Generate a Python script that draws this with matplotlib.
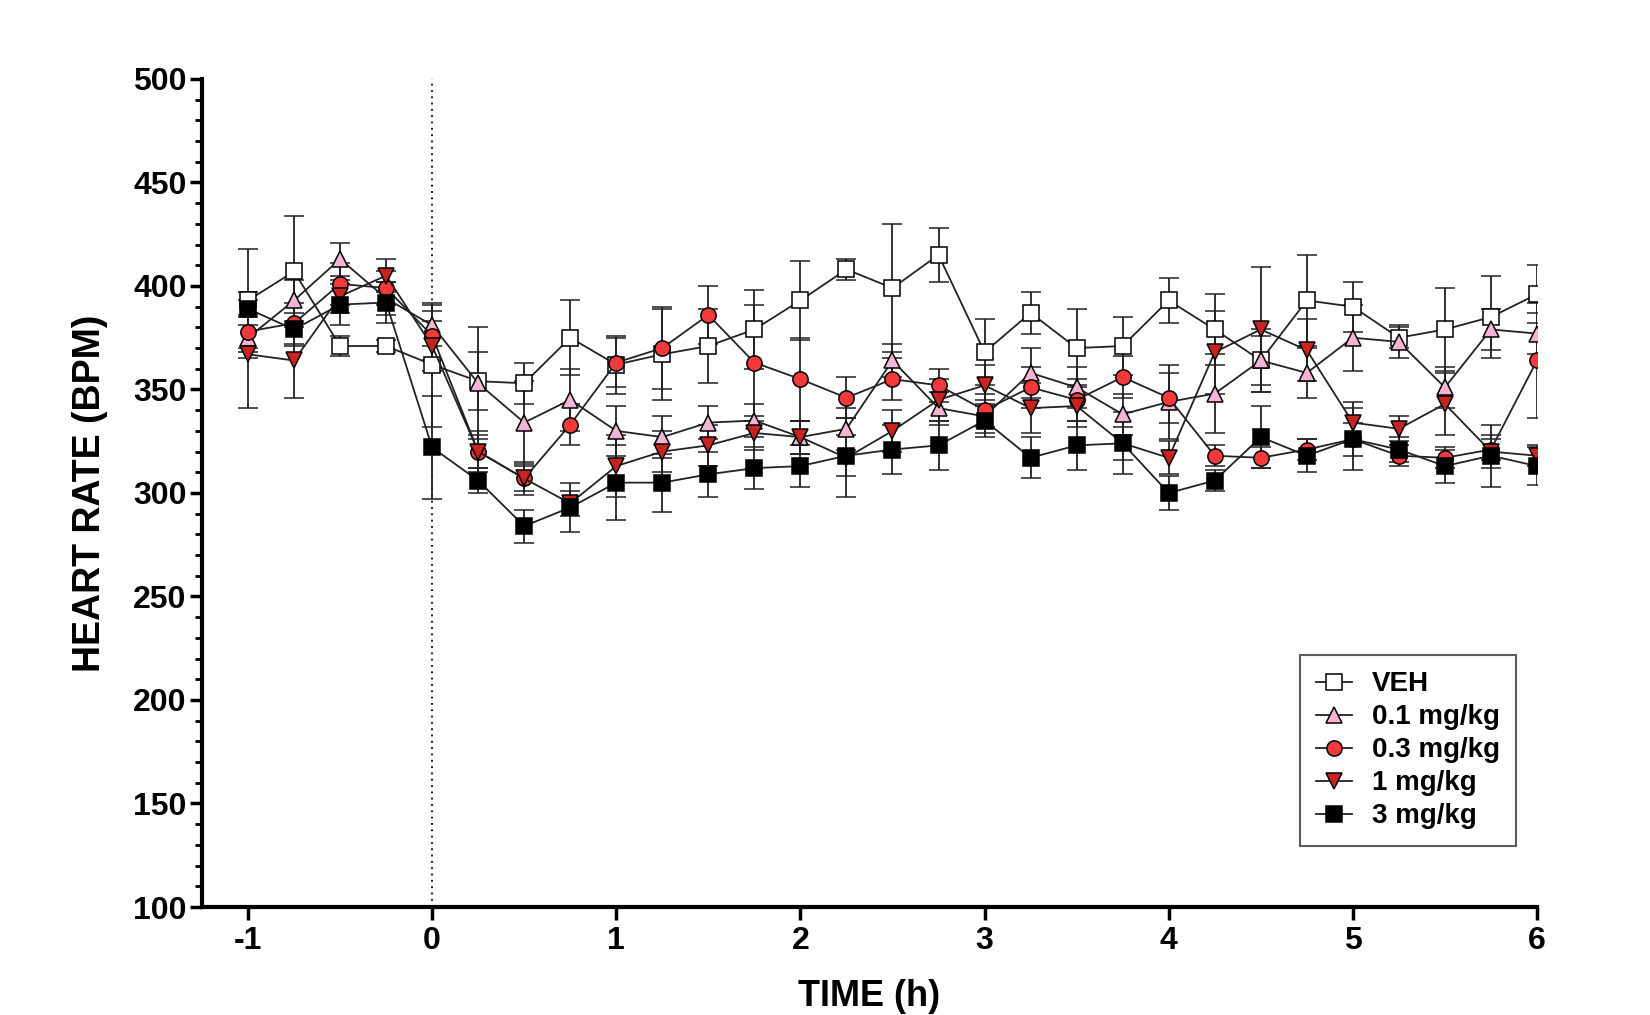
import numpy as np
import matplotlib
matplotlib.use("Agg")
import matplotlib.pyplot as plt
from matplotlib.lines import Line2D
from matplotlib.ticker import MultipleLocator

plt.rcParams['font.family'] = ['Liberation Sans', 'DejaVu Sans']
plt.rcParams['font.weight'] = 'bold'
plt.rcParams['axes.unicode_minus'] = False

# time points (h)
time = np.arange(-1, 6.01, 0.25)

# mean heart rate per group
veh = [393, 407, 371, 371, 362, 354, 353, 375, 362, 367, 371, 379, 393, 408, 399, 415,
       368, 387, 370, 371, 393, 379, 364, 393, 390, 375, 379, 385, 396]
d01 = [375, 393, 413, 394, 381, 353, 334, 345, 330, 327, 334, 335, 327, 331, 364, 341,
       337, 358, 351, 338, 344, 348, 364, 358, 375, 373, 351, 379, 377]
d03 = [378, 382, 401, 399, 376, 320, 307, 333, 363, 370, 386, 363, 355, 346, 355, 352,
       340, 351, 345, 356, 346, 318, 317, 321, 326, 318, 317, 321, 364]
d1 = [367, 364, 395, 405, 371, 320, 307, 295, 313, 320, 323, 329, 327, 317, 330, 345,
      352, 341, 342, 324, 317, 368, 379, 369, 334, 331, 343, 320, 318]
d3 = [389, 379, 391, 392, 322, 306, 284, 293, 305, 305, 309, 312, 313, 318, 321, 323,
      335, 317, 323, 324, 300, 306, 327, 318, 326, 321, 313, 318, 313]

# SEM per group
veh_err = [25, 27, 5, 3, 30, 14, 10, 18, 14, 22, 18, 19, 19, 5, 31, 13,
           16, 10, 19, 14, 11, 17, 12, 22, 12, 5, 20, 20, 14]
d01_err = [10, 10, 8, 8, 10, 27, 20, 15, 12, 10, 8, 8, 8, 10, 8, 8,
           8, 12, 10, 10, 18, 19, 15, 12, 16, 8, 10, 10, 10]
d03_err = [8, 10, 10, 8, 12, 10, 6, 10, 12, 20, 14, 28, 20, 10, 10, 8,
           8, 10, 10, 10, 12, 5, 5, 5, 8, 5, 5, 5, 28]
d1_err = [26, 18, 8, 8, 12, 8, 8, 6, 15, 10, 10, 8, 8, 19, 10, 10,
          10, 12, 10, 8, 8, 20, 30, 15, 10, 6, 15, 8, 5]
d3_err = [8, 8, 10, 10, 25, 6, 8, 12, 18, 14, 11, 10, 10, 10, 12, 12,
          8, 10, 12, 15, 8, 5, 15, 8, 15, 6, 8, 15, 9]

labels = ['VEH', '0.1 mg/kg', '0.3 mg/kg', '1 mg/kg', '3 mg/kg']
markers = ['s', '^', 'o', 'v', 's']
faces = ['white', '#f4b4d4', '#f23a3c', '#c8231f', 'black']
series = [veh, d01, d03, d1, d3]
errs = [veh_err, d01_err, d03_err, d1_err, d3_err]

fig = plt.figure(figsize=(16.5, 10.15), dpi=100)
ax = fig.add_axes([0.1224, 0.1064, 0.8091, 0.8158])

ax.axvline(0, color='black', linestyle=(0, (1, 2.5)), linewidth=1.3, zorder=1)

handles = []
for y, e, lab, m, fc in zip(series, errs, labels, markers, faces):
    ax.errorbar(time, y, yerr=e, color='#222222', linewidth=1.3, elinewidth=1.3,
                capsize=7, capthick=1.3, marker=m, markersize=11,
                markerfacecolor=fc, markeredgecolor='black', markeredgewidth=1.1,
                zorder=3)
    handles.append(Line2D([], [], color='#222222', linewidth=1.3, marker=m,
                          markersize=11, markerfacecolor=fc,
                          markeredgecolor='black', markeredgewidth=1.1, label=lab))

ax.set_xlim(-1.25, 6)
ax.set_ylim(100, 500)
ax.xaxis.set_major_locator(MultipleLocator(1))
ax.yaxis.set_major_locator(MultipleLocator(50))
ax.yaxis.set_minor_locator(MultipleLocator(10))

for s in ['top', 'right']:
    ax.spines[s].set_visible(False)
for s in ['left', 'bottom']:
    ax.spines[s].set_linewidth(3)

ax.tick_params(axis='both', which='major', direction='out', length=9, width=2.5,
               labelsize=23, pad=2)
ax.tick_params(axis='x', which='major', pad=5)
ax.tick_params(axis='y', which='minor', direction='out', length=5, width=2)
ax.tick_params(axis='x', which='minor', length=0)

for t in ax.get_xticklabels() + ax.get_yticklabels():
    t.set_fontweight('bold')

ax.set_xlabel('TIME (h)', fontsize=26, fontweight='bold', labelpad=16)
ax.set_ylabel('HEART RATE (BPM)', fontsize=27, fontweight='bold', labelpad=18)

leg = ax.legend(handles=handles, loc='lower right', bbox_to_anchor=(0.995, 0.057),
                fontsize=20, frameon=True, fancybox=False, handlelength=1.3,
                handletextpad=0.7, labelspacing=0.25, borderpad=0.6)
leg.get_frame().set_edgecolor('#333333')
leg.get_frame().set_linewidth(1.5)
for t in leg.get_texts():
    t.set_fontweight('bold')

fig.savefig('out.png', dpi=100)
